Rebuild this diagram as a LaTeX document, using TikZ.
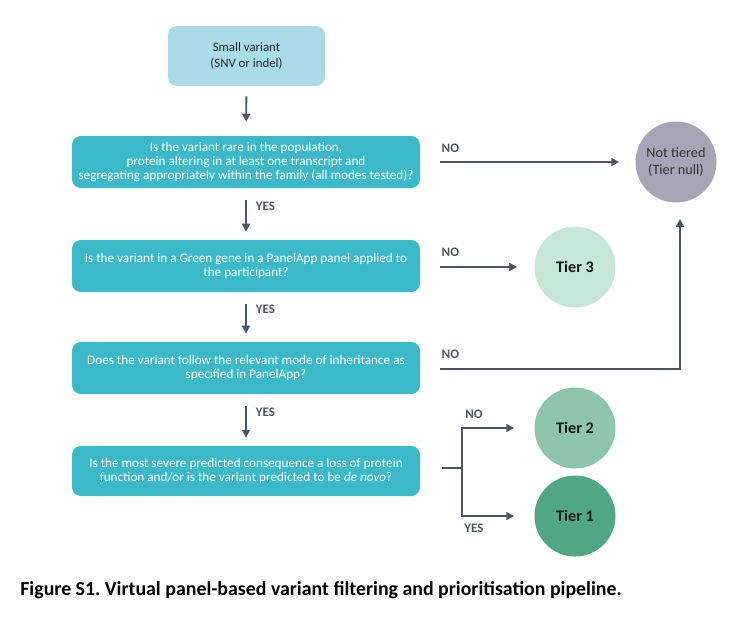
\documentclass[tikz,border=0pt]{standalone}
\usepackage{fontspec}
\setmainfont{Carlito}
\usetikzlibrary{positioning,arrows.meta}
\frenchspacing

\definecolor{startblue}{HTML}{A9DCE6}
\definecolor{questteal}{HTML}{3BB9C9}
\definecolor{nullgrey}{HTML}{A5A5B5}
\definecolor{tierthree}{HTML}{C6E6D8}
\definecolor{tiertwo}{HTML}{8EC6AC}
\definecolor{tierone}{HTML}{50A784}
\definecolor{linkslate}{HTML}{4A5568}

\tikzset{
startbox/.style = {rectangle, fill=startblue, rounded corners=5pt, minimum width=3.14cm, minimum height=1.2cm, align=center, font=\fontsize{7.3}{9}\selectfont, text=black!85},
quest/.style    = {rectangle, fill=questteal, rounded corners=5pt, minimum width=6.96cm, minimum height=1.04cm, align=center, text=white, font=\fontsize{7.5}{8}\selectfont},
tier/.style     = {circle, minimum size=1.62cm, inner sep=0pt, align=center, font=\fontsize{9.2}{10}\selectfont\bfseries, text=black!90},
link/.style     = {draw=linkslate, line width=1.1pt, -{Triangle[length=4.5pt,width=4.5pt]}},
ans/.style      = {text=linkslate, font=\fontsize{7.4}{8}\selectfont\bfseries, inner sep=0pt},
}

\begin{document}
\begin{tikzpicture}
    \useasboundingbox[fill=white] (0,0) rectangle (14.9,-12.52);
    % flow of questions
    \node[startbox] (small) at (4.93,-1.12) {Small variant\\(SNV or indel)};
    \node[quest] (rare) at (4.92,-3.24) {Is the variant rare in the population,\\protein altering in at least one transcript and\\segregating appropriately within the family (all modes tested)?};
    \node[quest] (green) at (4.92,-5.32) {Is the variant in a Green gene in a PanelApp panel applied to\\the participant?};
    \node[quest] (mode) at (4.92,-7.36) {Does the variant follow the relevant mode of inheritance as\\specified in PanelApp?};
    \node[quest, minimum height=1cm] (severe) at (4.92,-9.42) {Is the most severe predicted consequence a loss of protein\\function and/or is the variant predicted to be \emph{de novo}?};
    % outcomes
    \node[tier, fill=nullgrey, font=\fontsize{8.1}{9.6}\selectfont, text=black!80] (null) at (13.52,-3.24) {Not tiered\\(Tier null)};
    \node[tier, fill=tierthree] (t3) at (11.5,-5.34) {Tier 3};
    \node[tier, fill=tiertwo] (t2) at (11.5,-8.56) {Tier 2};
    \node[tier, fill=tierone] (t1) at (11.5,-10.32) {Tier 1};

    \draw[link, shorten <=0.2cm, shorten >=0.28cm] (small) -- (rare);
    \draw[link, shorten <=0.24cm, shorten >=0.16cm] (rare) -- node[ans, right=0.18cm, pos=0.35] {YES} (green);
    \draw[link, shorten <=0.24cm, shorten >=0.16cm] (green) -- node[ans, right=0.18cm, pos=0.35] {YES} (mode);
    \draw[link, shorten <=0.24cm, shorten >=0.16cm] (mode) -- node[ans, right=0.18cm, pos=0.35] {YES} (severe);

    \draw[link, shorten <=0.4cm, shorten >=0.32cm] (rare) -- (null);
    \node[ans, anchor=south west] at ([xshift=0.42cm, yshift=0.18cm]rare.east) {NO};
    \draw[link, shorten <=0.4cm, shorten >=0.34cm] (green.east |- t3) -- (t3);
    \node[ans, anchor=south west] at ([xshift=0.42cm, yshift=0.18cm]green.east) {NO};
    \coordinate (bend) at (13.6,-7.38);
    \draw[link, shorten >=0.32cm] ([xshift=0.4cm]mode.east |- bend) -- (bend) -- (bend |- null.south);
    \node[ans, anchor=south west] at ([xshift=0.42cm, yshift=0.18cm]mode.east) {NO};

    \coordinate (fork) at (9.24,-9.36);
    \draw[draw=linkslate, line width=1.1pt] ([xshift=0.44cm]severe.east |- fork) -- (fork);
    \draw[link, shorten >=0.4cm] (fork) |- (t2);
    \draw[link, shorten >=0.4cm] (fork) |- (t1);
    \node[ans] at (9.48,-8.28) {NO};
    \node[ans] at (9.48,-10.56) {YES};

    \node[anchor=west, inner sep=0pt, font=\fontsize{11.3}{13}\selectfont\bfseries] (caption) at (0.4,-11.8) {Figure S1. Virtual panel-based variant filtering and prioritisation pipeline.};
\end{tikzpicture}
\end{document}
